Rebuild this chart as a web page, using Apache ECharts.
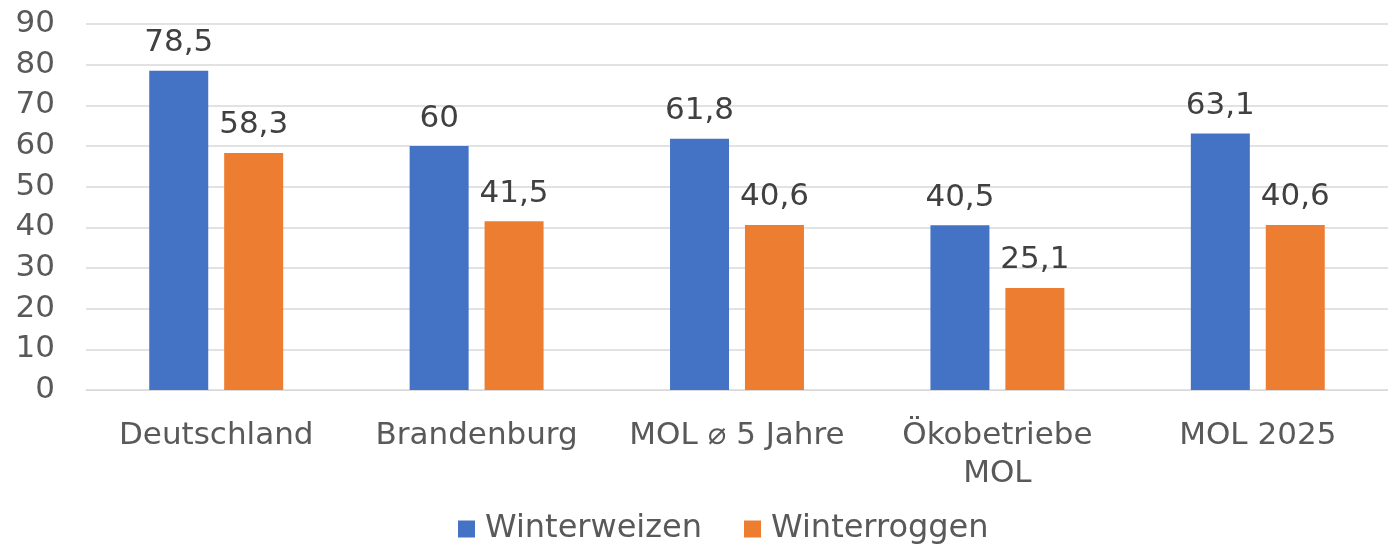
<!DOCTYPE html>
<html>
<head>
<meta charset="utf-8">
<script src="https://cdn.jsdelivr.net/npm/echarts@6/dist/echarts.min.js"></script>
<style>
  html, body { margin: 0; padding: 0; background: #fff; }
  #chart { width: 1388px; height: 550px; }
</style>
</head>
<body>
<div id="chart"></div>
<script>
const categories = ['Deutschland', 'Brandenburg', 'MOL ⌀ 5 Jahre', 'Ökobetriebe\nMOL', 'MOL 2025']
const winterweizen = [78.5, 60, 61.8, 40.5, 63.1]
const winterroggen = [58.3, 41.5, 40.6, 25.1, 40.6]

const font = 'DejaVu Sans, Verdana, sans-serif'
const chart = echarts.init(document.getElementById('chart'))

function fmt(p) {
  return String(p.value).replace('.', ',')
}

chart.setOption({
  animation: false,
  textStyle: { fontFamily: font },
  grid: {
    left: 86,
    right: 0,
    top: 24,
    bottom: 160,
    containLabel: false
  },
  legend: {
    bottom: 0,
    left: 453,
    itemWidth: 17,
    itemHeight: 17,
    itemGap: 42,
    icon: 'rect',
    textStyle: { color: '#595959', fontSize: 32, fontFamily: font, padding: [0, 0, 0, 5] },
    data: ['Winterweizen', 'Winterroggen']
  },
  xAxis: {
    type: 'category',
    data: categories,
    axisLine: { lineStyle: { color: '#d9d9d9' } },
    axisTick: { show: false },
    axisLabel: {
      color: '#595959',
      fontSize: 31,
      fontFamily: font,
      margin: 27,
      lineHeight: 38,
      interval: 0
    }
  },
  yAxis: {
    type: 'value',
    min: 0,
    max: 90,
    interval: 10,
    axisLine: { show: false },
    axisTick: { show: false },
    splitLine: { lineStyle: { color: '#d9d9d9', width: 1.5 } },
    axisLabel: {
      color: '#595959',
      fontSize: 31,
      fontFamily: font,
      margin: 31
    }
  },
  series: [
    {
      name: 'Winterweizen',
      type: 'bar',
      data: winterweizen,
      barWidth: 59,
      barGap: '27%',
      itemStyle: { color: '#4472C4' },
      label: {
        show: true,
        position: 'top',
        distance: 12,
        color: '#404040',
        fontSize: 31,
        fontFamily: font,
        formatter: fmt
      }
    },
    {
      name: 'Winterroggen',
      type: 'bar',
      data: winterroggen,
      barWidth: 59,
      barGap: '27%',
      itemStyle: { color: '#ED7D31' },
      label: {
        show: true,
        position: 'top',
        distance: 12,
        color: '#404040',
        fontSize: 31,
        fontFamily: font,
        formatter: fmt
      }
    }
  ]
})
</script>
</body>
</html>
